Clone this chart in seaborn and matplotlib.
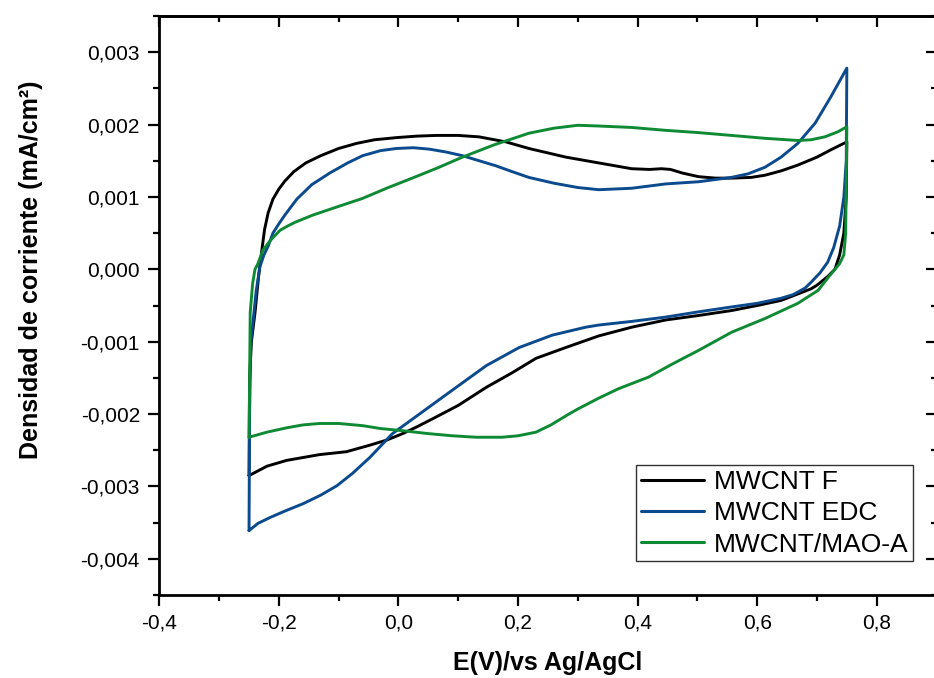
import matplotlib
matplotlib.use("Agg")
import matplotlib.pyplot as plt
import numpy as np
import pandas as pd
import seaborn as sns
from matplotlib.ticker import MultipleLocator, FuncFormatter

# Cyclic voltammograms: anodic sweep from -0.25 V to 0.75 V, then cathodic sweep back
e_f = [-0.250, -0.249, -0.246, -0.240, -0.234, -0.228, -0.224, -0.218, -0.210, -0.200,
       -0.190, -0.175, -0.155, -0.130, -0.100, -0.070, -0.040, -0.003, 0.030, 0.063,
       0.100, 0.135, 0.180, 0.218, 0.280, 0.335, 0.390, 0.420, 0.440, 0.455, 0.475,
       0.502, 0.530, 0.557, 0.590, 0.613, 0.640, 0.668, 0.700, 0.723, 0.740, 0.750,
       0.750, 0.749, 0.745, 0.738, 0.730, 0.718, 0.700, 0.690, 0.665, 0.640, 0.600,
       0.557, 0.500, 0.447, 0.390, 0.335, 0.280, 0.230, 0.190, 0.147, 0.100, 0.063,
       0.030, 0.007, -0.020, -0.048, -0.087, -0.132, -0.187, -0.220, -0.250]
j_f = [-0.00285, -0.00150, -0.00100, -0.00060, -0.00010, 0.00030, 0.00055, 0.00078, 0.00097, 0.00111,
       0.00122, 0.00135, 0.00147, 0.00157, 0.00167, 0.00174, 0.00179, 0.00182, 0.00184, 0.00185,
       0.00185, 0.00183, 0.00176, 0.00167, 0.00155, 0.00147, 0.00139, 0.00138, 0.00139, 0.00138, 0.00133,
       0.00128, 0.00126, 0.00126, 0.00127, 0.00130, 0.00136, 0.00144, 0.00155, 0.00165, 0.00172, 0.00176,
       0.00176, 0.00100, 0.00050, 0.00020, 0.00000, -0.00010, -0.00022, -0.00027, -0.00035, -0.00043, -0.00050,
       -0.00057, -0.00064, -0.00070, -0.00080, -0.00092, -0.00108, -0.00123, -0.00143, -0.00163, -0.00188, -0.00204,
       -0.00218, -0.00227, -0.00236, -0.00243, -0.00252, -0.00256, -0.00264, -0.00272, -0.00285]

e_edc = [-0.250, -0.249, -0.247, -0.243, -0.238, -0.232, -0.225, -0.218, -0.210, -0.200,
         -0.190, -0.170, -0.145, -0.115, -0.085, -0.060, -0.030, -0.003, 0.025, 0.052, 0.080,
         0.107, 0.135, 0.163, 0.190, 0.218, 0.260, 0.300, 0.335, 0.390, 0.447, 0.502,
         0.557, 0.585, 0.613, 0.640, 0.668, 0.697, 0.723, 0.750,
         0.750, 0.749, 0.745, 0.738, 0.728, 0.718, 0.705, 0.690, 0.680, 0.660, 0.640, 0.600, 0.557,
         0.500, 0.447, 0.390, 0.335, 0.313, 0.257, 0.202, 0.147, 0.090, 0.035, -0.010,
         -0.048, -0.077, -0.103, -0.130, -0.160, -0.190, -0.215, -0.235, -0.250]
j_edc = [-0.00361, -0.00200, -0.00100, -0.00070, -0.00030, 0.00003, 0.00020, 0.00032, 0.00050, 0.00063,
         0.00075, 0.00097, 0.00117, 0.00133, 0.00147, 0.00157, 0.00164, 0.00167, 0.00168, 0.00166, 0.00162,
         0.00157, 0.00150, 0.00143, 0.00135, 0.00127, 0.00119, 0.00113, 0.00110, 0.00112, 0.00118, 0.00121,
         0.00127, 0.00132, 0.00141, 0.00155, 0.00174, 0.00202, 0.00238, 0.00278,
         0.00278, 0.00150, 0.00100, 0.00060, 0.00030, 0.00010, -0.00005, -0.00018, -0.00026, -0.00035, -0.00040, -0.00047, -0.00052,
         -0.00059, -0.00066, -0.00072, -0.00077, -0.00080, -0.00091, -0.00108, -0.00133, -0.00167, -0.00200, -0.00227,
         -0.00260, -0.00282, -0.00299, -0.00312, -0.00324, -0.00334, -0.00343, -0.00351, -0.00361]

e_mao = [-0.250, -0.249, -0.248, -0.244, -0.240, -0.235, -0.227, -0.220, -0.212, -0.198, -0.185,
         -0.173, -0.143, -0.100, -0.060, -0.020, 0.023, 0.065, 0.107, 0.160, 0.218, 0.260,
         0.300, 0.335, 0.390, 0.447, 0.500, 0.557, 0.613, 0.668, 0.690, 0.713, 0.735, 0.750,
         0.750, 0.748, 0.745, 0.738, 0.730, 0.720, 0.702, 0.668, 0.613, 0.557, 0.502,
         0.460, 0.418, 0.368, 0.335, 0.300, 0.285, 0.255, 0.230, 0.200, 0.173, 0.130,
         0.090, 0.050, 0.007, -0.030, -0.060, -0.100, -0.132, -0.160, -0.187, -0.220, -0.250]
j_mao = [-0.00232, -0.00150, -0.00060, -0.00020, 0.00000, 0.00008, 0.00026, 0.00034, 0.00042, 0.00054, 0.00060,
         0.00065, 0.00075, 0.00087, 0.00098, 0.00112, 0.00126, 0.00140, 0.00155, 0.00172, 0.00188, 0.00195,
         0.00199, 0.00198, 0.00196, 0.00192, 0.00189, 0.00185, 0.00181, 0.00178, 0.00179, 0.00183, 0.00190, 0.00197,
         0.00197, 0.00050, 0.00020, 0.00008, 0.00000, -0.00010, -0.00029, -0.00047, -0.00068, -0.00087, -0.00112,
         -0.00130, -0.00149, -0.00165, -0.00178, -0.00193, -0.00200, -0.00215, -0.00225, -0.00230, -0.00232, -0.00232,
         -0.00230, -0.00227, -0.00223, -0.00220, -0.00216, -0.00213, -0.00213, -0.00215, -0.00219, -0.00225, -0.00232]

series = ["MWCNT F", "MWCNT EDC", "MWCNT/MAO-A"]
colors = ["#000000", "#0b4a8d", "#0f8a34"]

x_ticks = [-0.4, -0.2, 0.0, 0.2, 0.4, 0.6, 0.8]
y_ticks = [-0.004, -0.003, -0.002, -0.001, 0.000, 0.001, 0.002, 0.003]

frames = []
for name, e, j in zip(series, [e_f, e_edc, e_mao], [j_f, j_edc, j_mao]):
    frames.append(pd.DataFrame({"E": e, "J": j, "serie": name}))
df = pd.concat(frames, ignore_index=True)

sns.set_theme(style="ticks")
plt.rcParams["font.family"] = ["Liberation Sans", "DejaVu Sans"]
plt.rcParams["text.color"] = "black"
plt.rcParams["axes.labelcolor"] = "black"
plt.rcParams["xtick.color"] = "black"
plt.rcParams["ytick.color"] = "black"

fig = plt.figure(figsize=(9.34, 6.78), dpi=100)
ax = fig.add_axes([0.1706, 0.1224, 0.8321, 0.8540])

sns.lineplot(data=df, x="E", y="J", hue="serie", hue_order=series,
             palette=dict(zip(series, colors)), sort=False, estimator=None,
             linewidth=2.1, solid_joinstyle="round", ax=ax)

ax.set_xlim(-0.4, 0.9)
ax.set_ylim(-0.0045, 0.0035)

def comma_fmt(decimals):
    def f(v, pos):
        s = f"{v:.{decimals}f}"
        if s.startswith("-") and float(s) == 0:
            s = s[1:]
        return s.replace(".", ",")
    return FuncFormatter(f)

ax.set_xticks(x_ticks)
ax.set_yticks(y_ticks)
ax.xaxis.set_major_formatter(comma_fmt(1))
ax.yaxis.set_major_formatter(comma_fmt(3))
ax.xaxis.set_minor_locator(MultipleLocator(0.1))
ax.yaxis.set_minor_locator(MultipleLocator(0.0005))

for sp in ax.spines.values():
    sp.set_linewidth(2.0)
    sp.set_color("black")

ax.tick_params(which="major", direction="out", length=8, width=1.6, labelsize=15,
               colors="black", top=False, right=False)
ax.tick_params(axis="x", which="major", pad=5)
ax.tick_params(axis="y", which="major", pad=6)
ax.tick_params(which="minor", direction="out", length=4.5, width=1.6,
               colors="black", top=False, right=False)

# Mirror ticks pointing inward on top and right
secx = ax.secondary_xaxis("top")
secx.set_xticks(x_ticks)
secx.xaxis.set_minor_locator(MultipleLocator(0.1))
secx.tick_params(which="major", direction="in", length=8, width=1.6, labeltop=False, colors="black")
secx.tick_params(which="minor", direction="in", length=4.5, width=1.6, colors="black")
secx.spines["top"].set_linewidth(2.0)

secy = ax.secondary_yaxis("right")
secy.set_yticks(y_ticks)
secy.yaxis.set_minor_locator(MultipleLocator(0.0005))
secy.tick_params(which="major", direction="in", length=8, width=1.6, labelright=False, colors="black")
secy.tick_params(which="minor", direction="in", length=4.5, width=1.6, colors="black")
secy.spines["right"].set_linewidth(2.0)

ax.set_xlabel("E(V)/vs Ag/AgCl", fontsize=18, fontweight="bold")
ax.set_ylabel("Densidad de corriente (mA/cm²)", fontsize=18, fontweight="bold")
ax.xaxis.set_label_coords(0.5, -0.097)
ax.yaxis.set_label_coords(-0.150, 0.561)

handles, labels = ax.get_legend_handles_labels()
leg = ax.legend(handles, labels, loc="upper right", bbox_to_anchor=(0.9698, 0.2245),
                borderaxespad=0, fontsize=19, frameon=True, fancybox=False,
                handlelength=2.4, handletextpad=0.35, borderpad=0.18,
                labelspacing=0.28)
leg.get_frame().set_edgecolor("black")
leg.get_frame().set_linewidth(1.0)
for line in leg.get_lines():
    line.set_linewidth(2.2)

fig.savefig("out.png", dpi=100)
